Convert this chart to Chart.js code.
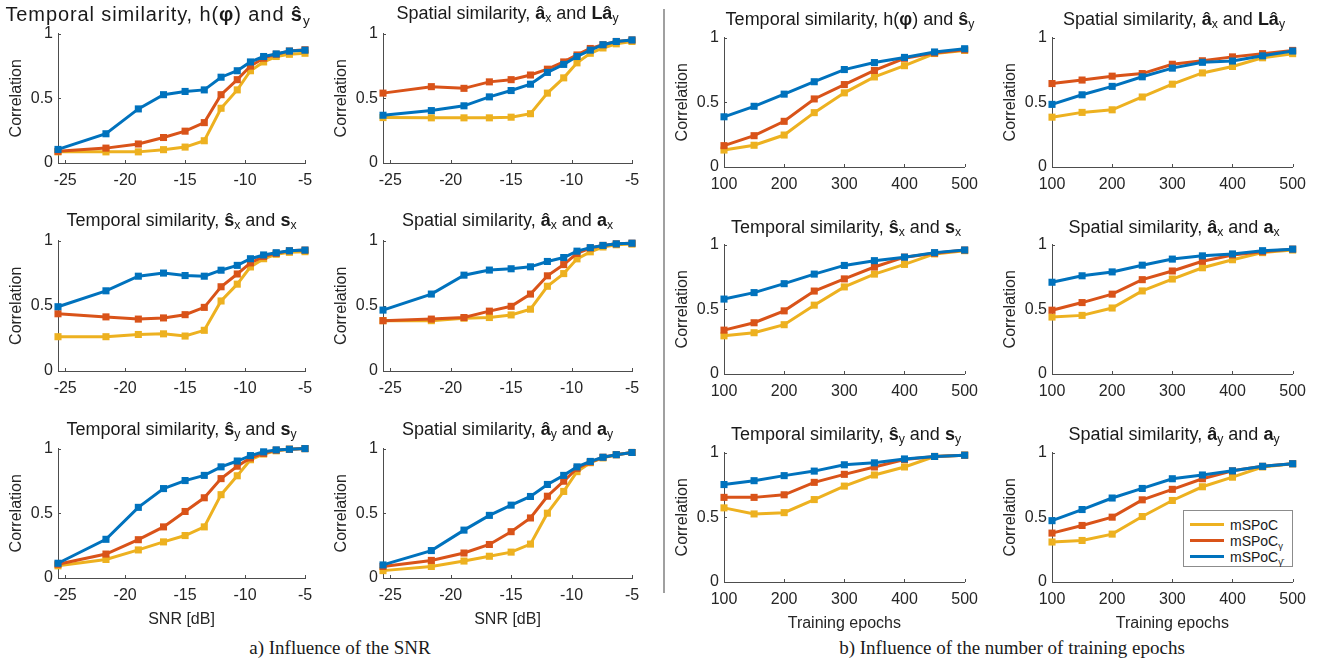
<!DOCTYPE html>
<html>
<head>
<meta charset="utf-8">
<title>mSPoC correlation vs SNR and training epochs</title>
<script src="https://cdn.jsdelivr.net/npm/chart.js@4.4.1/dist/chart.umd.min.js"></script>
<style>
  html, body { margin: 0; padding: 0; background: #fff; }
  #fig { position: relative; width: 1323px; height: 665px; overflow: hidden;
         font-family: "Liberation Sans", Arial, Helvetica, sans-serif; color: #1a1a1a; }
  #fig canvas { position: absolute; }
  .ttl { position: absolute; white-space: nowrap; line-height: 1; transform: translateX(-50%); }
  .ttl sub, .legend sub { font-size: 0.68em; line-height: 0; vertical-align: -0.28em; }
  .divider { position: absolute; left: 663px; top: 9px; width: 2px; height: 584px; background: #a0a0a0; }
  .caption { position: absolute; top: 638px; font-family: "Liberation Serif", "Times New Roman", serif;
             font-size: 19px; line-height: 1; white-space: nowrap; transform: translateX(-50%); }
  .legend { position: absolute; left: 1183px; top: 510px; width: 108px; height: 55px;
            border: 1.5px solid #8c8c8c; background: #fff; font-size: 14px; z-index: 5; }
  .legend .item { position: absolute; left: 0; height: 16px; width: 100%; }
  .legend .swatch { position: absolute; left: 6px; top: 6px; width: 34px; height: 3px; }
  .legend .lbl { position: absolute; left: 46px; top: 0; line-height: 16px; }
</style>
</head>
<body>
<div id="fig">
  <div class="divider"></div>
  <div class="caption" style="left:340px">a) Influence of the SNR</div>
  <div class="caption" style="left:1012px">b) Influence of the number of training epochs</div>
  <div class="legend">
    <div class="item" style="top:6px"><div class="swatch" style="background:#EDB120"></div><div class="lbl">mSPoC</div></div>
    <div class="item" style="top:22px"><div class="swatch" style="background:#D95319"></div><div class="lbl">mSPoC<sub>γ</sub></div></div>
    <div class="item" style="top:38px"><div class="swatch" style="background:#0072BD"></div><div class="lbl">mSPoC<sub>γ̄</sub></div></div>
  </div>
</div>
<script>
// === x positions and ticks ===
const SNR_DB = [-25.6, -21.6, -18.9, -16.8, -15.0, -13.4, -12.0, -10.65, -9.55, -8.45, -7.4, -6.3, -5.0];
const EPOCHS = [100, 150, 200, 250, 300, 350, 400, 450, 500];
const SNR_TICKS = [-25, -20, -15, -10, -5];
const EPOCH_TICKS = [100, 200, 300, 400, 500];
const CORR_TICKS = [0, 0.5, 1];

// === a) SNR panels: mSPoC / mSPoC_gamma / mSPoC_gammabar ===
const snrHphiSy_mspoc = [0.086, 0.086, 0.086, 0.103, 0.123, 0.172, 0.423, 0.565, 0.713, 0.781, 0.823, 0.840, 0.848];
const snrHphiSy_gamma = [0.090, 0.115, 0.147, 0.197, 0.246, 0.312, 0.528, 0.644, 0.749, 0.810, 0.840, 0.865, 0.875];
const snrHphiSy_gbar  = [0.105, 0.226, 0.418, 0.528, 0.553, 0.565, 0.663, 0.713, 0.781, 0.823, 0.843, 0.865, 0.872];

const snrAxLay_mspoc = [0.351, 0.349, 0.349, 0.349, 0.354, 0.381, 0.540, 0.658, 0.774, 0.848, 0.889, 0.921, 0.939];
const snrAxLay_gamma = [0.540, 0.590, 0.577, 0.627, 0.644, 0.680, 0.725, 0.781, 0.835, 0.885, 0.914, 0.939, 0.951];
const snrAxLay_gbar  = [0.369, 0.405, 0.442, 0.511, 0.560, 0.609, 0.700, 0.762, 0.823, 0.872, 0.914, 0.939, 0.951];

const snrSxSx_mspoc = [0.263, 0.263, 0.280, 0.285, 0.268, 0.312, 0.537, 0.666, 0.798, 0.861, 0.895, 0.910, 0.915];
const snrSxSx_gamma = [0.439, 0.415, 0.398, 0.407, 0.432, 0.488, 0.646, 0.744, 0.829, 0.878, 0.902, 0.922, 0.927];
const snrSxSx_gbar  = [0.493, 0.615, 0.727, 0.751, 0.732, 0.727, 0.773, 0.810, 0.861, 0.890, 0.907, 0.922, 0.927];

const snrAxAx_mspoc = [0.386, 0.386, 0.405, 0.410, 0.430, 0.474, 0.650, 0.747, 0.860, 0.914, 0.951, 0.968, 0.973];
const snrAxAx_gamma = [0.386, 0.398, 0.410, 0.459, 0.496, 0.590, 0.730, 0.816, 0.902, 0.943, 0.963, 0.975, 0.980];
const snrAxAx_gbar  = [0.467, 0.590, 0.735, 0.774, 0.784, 0.799, 0.840, 0.870, 0.919, 0.946, 0.963, 0.975, 0.980];

const snrSySy_mspoc = [0.094, 0.143, 0.217, 0.279, 0.328, 0.395, 0.644, 0.790, 0.914, 0.958, 0.983, 0.995, 1.000];
const snrSySy_gamma = [0.106, 0.185, 0.296, 0.395, 0.514, 0.620, 0.768, 0.864, 0.928, 0.963, 0.988, 0.995, 1.000];
const snrSySy_gbar  = [0.114, 0.299, 0.546, 0.691, 0.753, 0.793, 0.859, 0.904, 0.946, 0.975, 0.990, 0.995, 1.000];

const snrAyAy_mspoc = [0.057, 0.089, 0.131, 0.168, 0.200, 0.262, 0.501, 0.669, 0.822, 0.891, 0.928, 0.953, 0.970];
const snrAyAy_gamma = [0.089, 0.136, 0.193, 0.259, 0.358, 0.464, 0.632, 0.748, 0.847, 0.896, 0.933, 0.953, 0.970];
const snrAyAy_gbar  = [0.101, 0.212, 0.370, 0.484, 0.563, 0.630, 0.723, 0.793, 0.859, 0.901, 0.933, 0.953, 0.970];

// === b) training epoch panels ===
const epHphiSy_mspoc = [0.131, 0.168, 0.247, 0.420, 0.573, 0.696, 0.783, 0.877, 0.901];
const epHphiSy_gamma = [0.165, 0.242, 0.353, 0.526, 0.637, 0.746, 0.840, 0.881, 0.906];
const epHphiSy_gbar  = [0.388, 0.469, 0.563, 0.659, 0.753, 0.807, 0.847, 0.889, 0.914];

const epAxLay_mspoc = [0.385, 0.422, 0.442, 0.541, 0.640, 0.727, 0.777, 0.844, 0.876];
const epAxLay_gamma = [0.645, 0.672, 0.702, 0.722, 0.794, 0.821, 0.851, 0.876, 0.901];
const epAxLay_gbar  = [0.484, 0.558, 0.623, 0.697, 0.764, 0.809, 0.819, 0.859, 0.896];

const epSxSx_mspoc = [0.295, 0.319, 0.381, 0.532, 0.673, 0.772, 0.847, 0.928, 0.953];
const epSxSx_gamma = [0.339, 0.396, 0.488, 0.641, 0.735, 0.827, 0.903, 0.933, 0.958];
const epSxSx_gbar  = [0.579, 0.629, 0.698, 0.772, 0.839, 0.876, 0.903, 0.938, 0.958];

const epAxAx_mspoc = [0.440, 0.453, 0.510, 0.642, 0.734, 0.821, 0.883, 0.938, 0.958];
const epAxAx_gamma = [0.493, 0.552, 0.617, 0.729, 0.796, 0.871, 0.920, 0.945, 0.965];
const epAxAx_gbar  = [0.709, 0.759, 0.789, 0.841, 0.888, 0.913, 0.928, 0.953, 0.965];

const epSySy_mspoc = [0.573, 0.526, 0.536, 0.637, 0.741, 0.827, 0.889, 0.970, 0.980];
const epSySy_gamma = [0.654, 0.654, 0.674, 0.770, 0.832, 0.889, 0.946, 0.970, 0.980];
const epSySy_gbar  = [0.753, 0.783, 0.822, 0.857, 0.906, 0.921, 0.951, 0.970, 0.980];

const epAyAy_mspoc = [0.309, 0.321, 0.370, 0.506, 0.630, 0.736, 0.810, 0.889, 0.914];
const epAyAy_gamma = [0.378, 0.437, 0.501, 0.635, 0.716, 0.798, 0.859, 0.894, 0.914];
const epAyAy_gbar  = [0.474, 0.560, 0.649, 0.723, 0.798, 0.827, 0.859, 0.894, 0.914];

const SERIES_NAMES = ["mSPoC", "mSPoCγ", "mSPoCγ̄"];
const SERIES_COLORS = ["#EDB120", "#D95319", "#0072BD"];

// === titles (html, for hats/subscripts) ===
const T_HPHI = 'Temporal similarity, h(<b>φ</b>) and <b>ŝ</b><sub>y</sub>';
const T_AXLAY = 'Spatial similarity, <b>â</b><sub>x</sub> and <b>Lâ</b><sub>y</sub>';
const T_SXSX = 'Temporal similarity, <b>ŝ</b><sub>x</sub> and <b>s</b><sub>x</sub>';
const T_AXAX = 'Spatial similarity, <b>â</b><sub>x</sub> and <b>a</b><sub>x</sub>';
const T_SYSY = 'Temporal similarity, <b>ŝ</b><sub>y</sub> and <b>s</b><sub>y</sub>';
const T_AYAY = 'Spatial similarity, <b>â</b><sub>y</sub> and <b>a</b><sub>y</sub>';

const PANELS = [
  { col: 0, row: 0, x: SNR_DB, ticks: SNR_TICKS, ys: [snrHphiSy_mspoc, snrHphiSy_gamma, snrHphiSy_gbar], title: T_HPHI, tSize: 20, tSpacing: 0.9, tCx: 158 },
  { col: 1, row: 0, x: SNR_DB, ticks: SNR_TICKS, ys: [snrAxLay_mspoc, snrAxLay_gamma, snrAxLay_gbar], title: T_AXLAY },
  { col: 0, row: 1, x: SNR_DB, ticks: SNR_TICKS, ys: [snrSxSx_mspoc, snrSxSx_gamma, snrSxSx_gbar], title: T_SXSX },
  { col: 1, row: 1, x: SNR_DB, ticks: SNR_TICKS, ys: [snrAxAx_mspoc, snrAxAx_gamma, snrAxAx_gbar], title: T_AXAX },
  { col: 0, row: 2, x: SNR_DB, ticks: SNR_TICKS, ys: [snrSySy_mspoc, snrSySy_gamma, snrSySy_gbar], title: T_SYSY, xTitle: "SNR [dB]" },
  { col: 1, row: 2, x: SNR_DB, ticks: SNR_TICKS, ys: [snrAyAy_mspoc, snrAyAy_gamma, snrAyAy_gbar], title: T_AYAY, xTitle: "SNR [dB]" },
  { col: 2, row: 0, x: EPOCHS, ticks: EPOCH_TICKS, ys: [epHphiSy_mspoc, epHphiSy_gamma, epHphiSy_gbar], title: T_HPHI, tCx: 850 },
  { col: 3, row: 0, x: EPOCHS, ticks: EPOCH_TICKS, ys: [epAxLay_mspoc, epAxLay_gamma, epAxLay_gbar], title: T_AXLAY },
  { col: 2, row: 1, x: EPOCHS, ticks: EPOCH_TICKS, ys: [epSxSx_mspoc, epSxSx_gamma, epSxSx_gbar], title: T_SXSX },
  { col: 3, row: 1, x: EPOCHS, ticks: EPOCH_TICKS, ys: [epAxAx_mspoc, epAxAx_gamma, epAxAx_gbar], title: T_AXAX },
  { col: 2, row: 2, x: EPOCHS, ticks: EPOCH_TICKS, ys: [epSySy_mspoc, epSySy_gamma, epSySy_gbar], title: T_SYSY, xTitle: "Training epochs" },
  { col: 3, row: 2, x: EPOCHS, ticks: EPOCH_TICKS, ys: [epAyAy_mspoc, epAyAy_gamma, epAyAy_gbar], title: T_AYAY, xTitle: "Training epochs" }
];

// === layout (plot-area edges in page pixels) ===
const COL_L = [58, 383, 724, 1052];
const COL_R = [305, 632, 968, 1296];
const ROW_TOP = { a: [28, 235, 443], b: [32, 239, 447] };
const ROW_BOT = { a: [163, 371, 578], b: [167, 374, 582] };
const TITLE_CY = { a: [13.3, 219.7, 429.3], b: [19.3, 226.7, 433.7] };
const Y_AXIS_W = 56, PAD_T = 9, PAD_R = 18;
const AXIS_COLOR = "#4d4d4d";

Chart.defaults.font.family = '"Liberation Sans", Arial, Helvetica, sans-serif';
Chart.defaults.color = "#262626";

// MATLAB-style inward tick marks
const inwardTicks = {
  id: "inwardTicks",
  beforeDatasetsDraw(chart) {
    const { ctx, chartArea, scales } = chart;
    ctx.save();
    ctx.strokeStyle = AXIS_COLOR;
    ctx.lineWidth = 1;
    scales.x.ticks.forEach((t) => {
      const px = Math.round(scales.x.getPixelForValue(t.value)) + 0.5;
      ctx.beginPath(); ctx.moveTo(px, chartArea.bottom); ctx.lineTo(px, chartArea.bottom - 3); ctx.stroke();
    });
    scales.y.ticks.forEach((t) => {
      const py = Math.round(scales.y.getPixelForValue(t.value)) + 0.5;
      ctx.beginPath(); ctx.moveTo(chartArea.left, py); ctx.lineTo(chartArea.left + 3, py); ctx.stroke();
    });
    ctx.restore();
  }
};

const fig = document.getElementById("fig");

function makePanel(p) {
  const side = p.col < 2 ? "a" : "b";
  const left = COL_L[p.col], right = COL_R[p.col];
  const top = ROW_TOP[side][p.row], bottom = ROW_BOT[side][p.row];
  const xAxisH = p.xTitle ? 51 : 28;

  const cw = (right - left) + Y_AXIS_W + PAD_R;
  const ch = (bottom - top) + PAD_T + xAxisH;
  const canvas = document.createElement("canvas");
  canvas.width = cw; canvas.height = ch;
  canvas.style.left = (left - Y_AXIS_W) + "px";
  canvas.style.top = (top - PAD_T) + "px";
  canvas.style.width = cw + "px"; canvas.style.height = ch + "px";
  fig.appendChild(canvas);

  // title
  const tSize = p.tSize || 18;
  const t = document.createElement("div");
  t.className = "ttl";
  t.style.fontSize = tSize + "px";
  if (p.tSpacing) t.style.letterSpacing = p.tSpacing + "px";
  t.style.left = (p.tCx || (left + right) / 2) + "px";
  t.style.top = (TITLE_CY[side][p.row] - 0.49 * tSize) + "px";
  t.innerHTML = p.title;
  fig.appendChild(t);

  const datasets = p.ys.map((vals, i) => ({
    label: SERIES_NAMES[i],
    data: vals.map((v, k) => ({ x: p.x[k], y: v })),
    borderColor: SERIES_COLORS[i],
    backgroundColor: SERIES_COLORS[i],
    borderWidth: 3,
    pointStyle: "rect",
    pointRadius: 5,
    pointBorderWidth: 0,
    tension: 0,
    clip: false,
    order: 3 - i
  }));

  new Chart(canvas, {
    type: "line",
    data: { datasets },
    plugins: [inwardTicks],
    options: {
      responsive: false,
      animation: false,
      devicePixelRatio: 1,
      layout: { padding: { left: 0, right: PAD_R, top: PAD_T, bottom: 0 } },
      plugins: { legend: { display: false }, tooltip: { enabled: false }, title: { display: false } },
      scales: {
        x: {
          type: "linear",
          min: p.x[0], max: p.x[p.x.length - 1],
          afterBuildTicks: (s) => { s.ticks = p.ticks.map((v) => ({ value: v })); },
          afterFit: (s) => { s.height = xAxisH; },
          grid: { display: false, drawTicks: false },
          border: { display: true, color: AXIS_COLOR, width: 1 },
          ticks: { padding: 8, font: { size: 16 }, maxRotation: 0, callback: (v) => String(v) },
          title: { display: !!p.xTitle, text: p.xTitle || "", font: { size: 16 }, padding: 0 }
        },
        y: {
          min: 0, max: 1,
          afterBuildTicks: (s) => { s.ticks = CORR_TICKS.map((v) => ({ value: v })); },
          afterFit: (s) => { s.width = Y_AXIS_W; },
          grid: { display: false, drawTicks: false },
          border: { display: true, color: AXIS_COLOR, width: 1 },
          ticks: { padding: 5, font: { size: 16 }, callback: (v) => String(v) },
          title: { display: true, text: "Correlation", font: { size: 16 }, padding: 5 }
        }
      }
    }
  });
}

PANELS.forEach(makePanel);
</script>
</body>
</html>
